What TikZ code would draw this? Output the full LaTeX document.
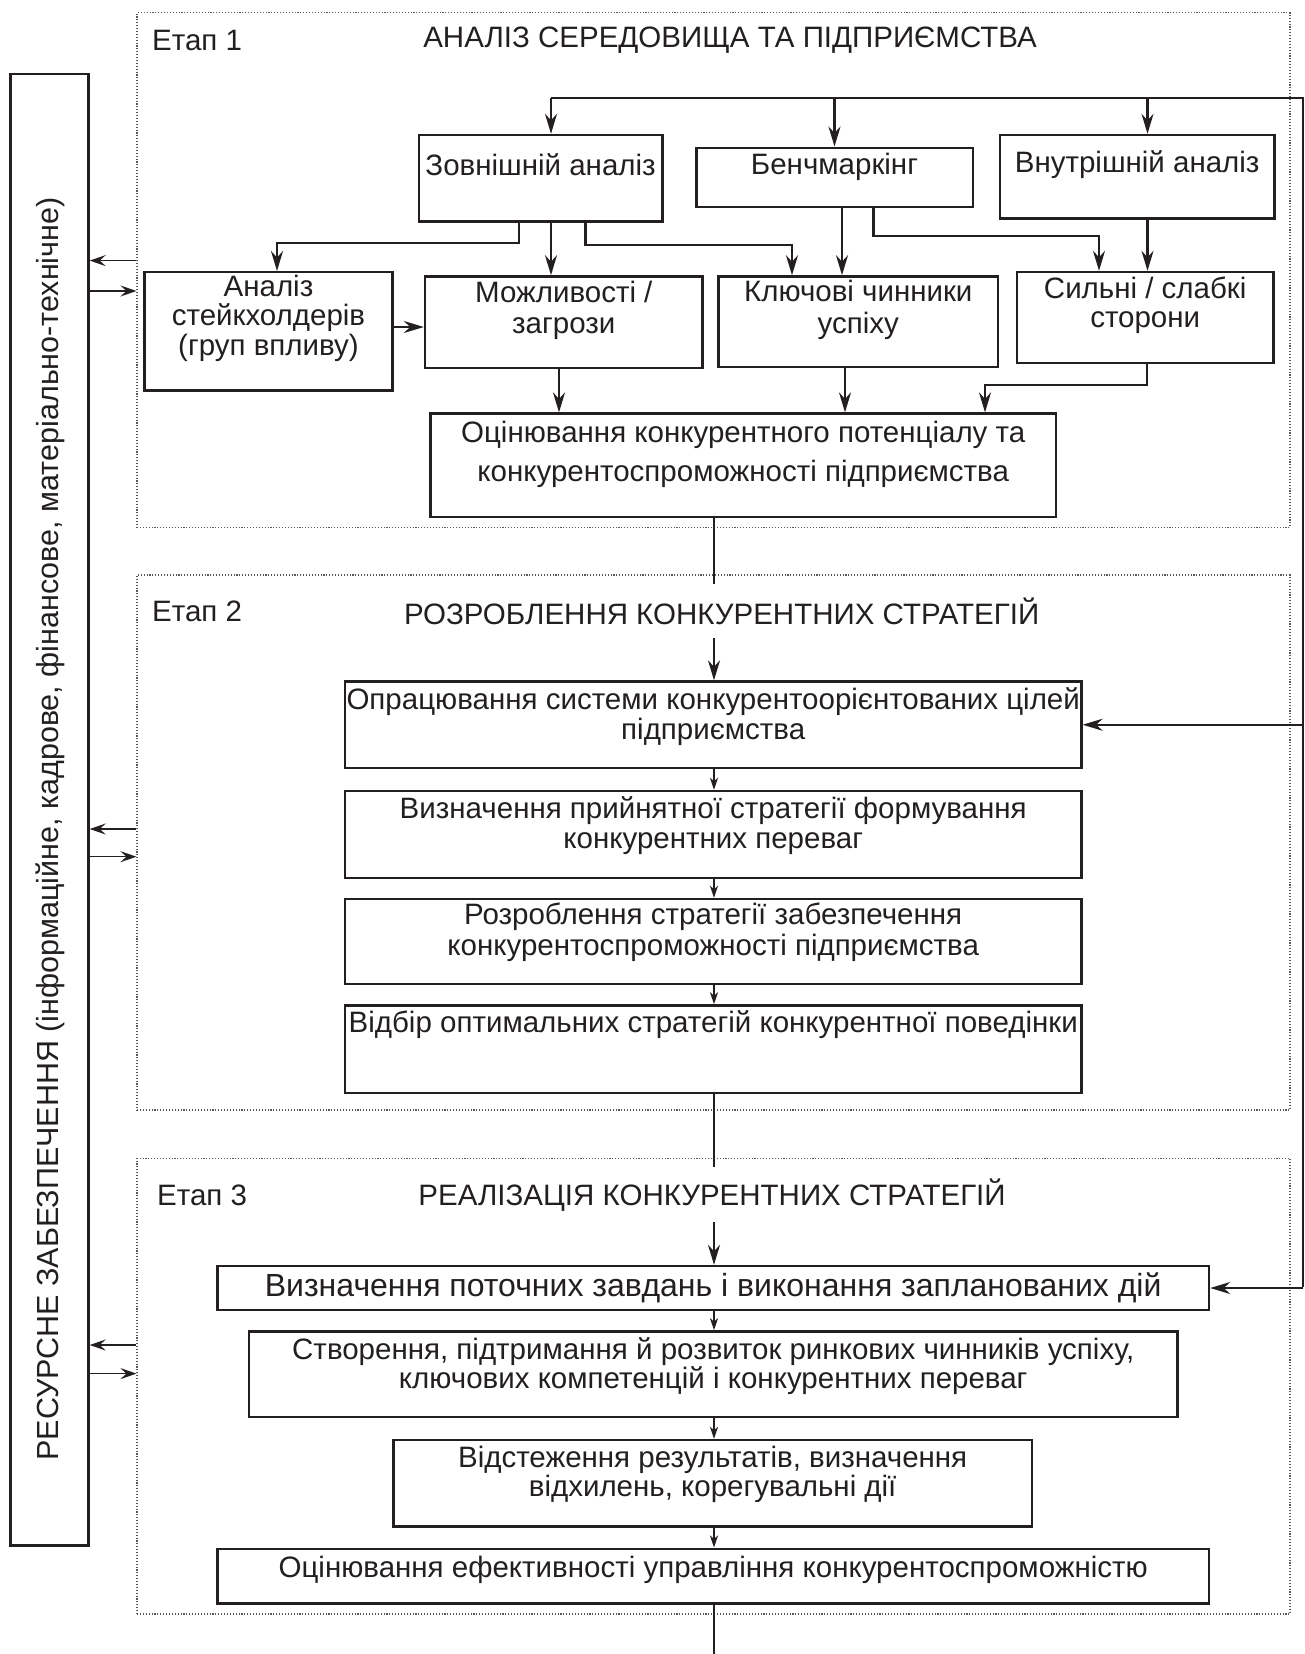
\documentclass[tikz,border=0pt]{standalone}
\usepackage{fontspec}
\setmainfont{Liberation Sans}
\usetikzlibrary{arrows.meta,fit,calc}
\definecolor{ink}{RGB}{35,31,32}
\begin{document}
\begin{tikzpicture}[x=1pt,y=-1pt,
 box/.style={draw=ink, line width=2.4pt, inner sep=0pt},
 stagebox/.style={draw=ink!75, line width=1.1pt, dash pattern=on 1.1pt off 1.8pt, inner sep=0pt},
 txt/.style={align=center, inner sep=0pt, text=ink},
 ln/.style={draw=ink, line width=2.2pt},
 arr/.style={ln, -{Stealth[length=20pt,width=12pt,inset=6.5pt]}},
 arrs/.style={ln, -{Stealth[length=12pt,width=8pt,inset=3.5pt]}},
 side/.style={draw=ink, line width=1.5pt, -{Stealth[length=16pt,width=11pt,inset=6pt]}},
 fa/.style={font=\fontsize{29.5}{32}\selectfont},
]
\useasboundingbox (0,0) rectangle (1305,1654);

% stage frames
\node[stagebox, fit={(137,12.7) (1290,527.5)}] (s1) {};
\node[stagebox, fit={(137,575) (1290,1110)}] (s2) {};
\node[stagebox, fit={(137,1158.4) (1290,1614)}] (s3) {};

% resource box
\node[box, fit={(10.5,73.9) (88.5,1545.6)}] (res) {};
\node[txt, rotate=90, font=\fontsize{30.5}{33}\selectfont] (restxt) at (50,829)
  {РЕСУРСНЕ ЗАБЕЗПЕЧЕННЯ (інформаційне, кадрове, фінансове, матеріально-технічне)};

% stage headings
\node[txt, fa, anchor=west] (e1) at (152,40) {Етап 1};
\node[txt, fa] (t1) at (730,40) {АНАЛІЗ СЕРЕДОВИЩА ТА ПІДПРИЄМСТВА};
\node[txt, fa, anchor=west] (e2) at (152,611) {Етап 2};
\node[txt, fa] (t2) at (721.6,611) {РОЗРОБЛЕННЯ КОНКУРЕНТНИХ СТРАТЕГІЙ};
\node[txt, fa, anchor=west] (e3) at (157,1195) {Етап 3};
\node[txt, fa] (t3) at (712,1195) {РЕАЛІЗАЦІЯ КОНКУРЕНТНИХ СТРАТЕГІЙ};

% stage 1 boxes
\node[box, fit={(418.8,135) (662.5,221.6)}] (zovn) {};
\node[txt, fa] at (540.6,164.5) {Зовнішній аналіз};
\node[box, fit={(696.3,147.7) (972.7,206.8)}] (bench) {};
\node[txt, fa] at (834.5,166.6) {Бенчмаркінг};
\node[box, fit={(1000,135) (1274.4,218.4)}] (vnut) {};
\node[txt, fa] at (1137.2,164.5) {Внутрішній аналіз};

\node[box, fit={(144.5,272.2) (392.5,390.4)}] (stake) {};
\node[txt, font=\fontsize{29.5}{29.5}\selectfont] at (268.5,318) {Аналіз\\стейкхолдерів\\(груп впливу)};
\node[box, fit={(425,276.4) (702.6,368.2)}] (mozh) {};
\node[txt, font=\fontsize{29.5}{31.7}\selectfont] at (563.8,310.5) {Можливості /\\загрози};
\node[box, fit={(718.5,276.4) (998,367)}] (kl) {};
\node[txt, font=\fontsize{29.5}{32}\selectfont] at (858.3,309.5) {Ключові чинники\\успіху};
\node[box, fit={(1017,272) (1273.4,363)}] (sil) {};
\node[txt, font=\fontsize{29.5}{28.6}\selectfont] at (1145.2,305.5) {Сильні / слабкі\\сторони};

\node[box, fit={(430.4,413.6) (1056,517)}] (oc) {};
\node[txt, font=\fontsize{29.5}{39}\selectfont] at (743.2,454) {Оцінювання конкурентного потенціалу та\\конкурентоспроможності підприємства};

% stage 2 boxes
\node[box, fit={(345,681.5) (1081.4,768)}] (opr) {};
\node[txt, font=\fontsize{29.5}{30.5}\selectfont] at (713.2,716.5) {Опрацювання системи конкурентоорієнтованих цілей\\підприємства};
\node[box, fit={(345,791) (1081.4,877.8)}] (vyzn) {};
\node[txt, font=\fontsize{29.5}{29.7}\selectfont] at (713.2,825.5) {Визначення прийнятної стратегії формування\\конкурентних переваг};
\node[box, fit={(345,899) (1081.4,984)}] (rozr) {};
\node[txt, font=\fontsize{29.5}{30.6}\selectfont] at (713.2,932.5) {Розроблення стратегії забезпечення\\конкурентоспроможності підприємства};
\node[box, fit={(345,1005.4) (1081.4,1093)}] (vidb) {};
\node[txt, fa] at (713.2,1025) {Відбір оптимальних стратегій конкурентної поведінки};

% stage 3 boxes
\node[box, fit={(217.3,1266) (1209,1310)}] (pot) {};
\node[txt, font=\fontsize{32}{35}\selectfont] at (713.2,1288) {Визначення поточних завдань і виконання запланованих дій};
\node[box, fit={(249,1331.4) (1177.4,1416.9)}] (stv) {};
\node[txt, font=\fontsize{29.5}{28.6}\selectfont] at (713.2,1366) {Створення, підтримання й розвиток ринкових чинників успіху,\\ключових компетенцій і конкурентних переваг};
\node[box, fit={(393.5,1440) (1031.8,1526.6)}] (vidst) {};
\node[txt, font=\fontsize{29.5}{28.5}\selectfont] at (712.7,1474.5) {Відстеження результатів, визначення\\відхилень, корегувальні дії};
\node[box, fit={(217.3,1548.7) (1209,1603.6)}] (oef) {};
\node[txt, fa] at (713.2,1570) {Оцінювання ефективності управління конкурентоспроможністю};

% column coordinates
\coordinate (cA) at (551,0);
\coordinate (cB) at (834.5,0);
\coordinate (cC) at (1147.5,0);
\coordinate (cm) at (714,0);
\coordinate (fbTop) at (1303,98);
\coordinate (fbBot) at (1303,1287);

% feedback line
\draw[ln] (fbTop -| cA) -- (fbTop) -- (fbBot);
\draw[arr] (fbTop -| cA) -- (zovn.north -| cA);
\draw[arr] (fbTop -| cB) -- (bench.north -| cB);
\draw[arr] (fbTop -| cC) -- (vnut.north -| cC);
\draw[arr] (fbTop |- opr.east) -- (opr.east);
\draw[arr] (fbTop |- pot.east) -- (pot.east);

% stage 1 connectors
\coordinate (zl) at (519,243);
\coordinate (zr) at (585.5,245);
\coordinate (sl) at (277,0);
\coordinate (kx) at (792,0);
\coordinate (bx) at (842,0);
\coordinate (br) at (873.5,236.3);
\coordinate (sx) at (1099,0);
\draw[arr] (zovn.south -| zl) -- (zl) -- (zl -| sl) -- (stake.north -| sl);
\draw[arr] (zovn.south -| cA) -- (mozh.north -| cA);
\draw[arr] (zovn.south -| zr) -- (zr) -- (zr -| kx) -- (kl.north -| kx);
\draw[arr] (bench.south -| bx) -- (kl.north -| bx);
\draw[arr] (bench.south -| br) -- (br) -- (br -| sx) -- (sil.north -| sx);
\draw[arr] (vnut.south -| cC) -- (sil.north -| cC);
\draw[arr] (stake.east |- 0,327) -- (mozh.west |- 0,327);

\coordinate (mx) at (559,0);
\coordinate (kx2) at (845,0);
\coordinate (sc) at (1147,385);
\coordinate (ox) at (985,0);
\draw[arr] (mozh.south -| mx) -- (oc.north -| mx);
\draw[arr] (kl.south -| kx2) -- (oc.north -| kx2);
\draw[arr] (sil.south -| sc) -- (sc) -- (sc -| ox) -- (oc.north -| ox);

% between stages
\draw[ln] (oc.south -| cm) -- (cm |- 0,584);
\draw[arr] (cm |- 0,638) -- (opr.north -| cm);
\draw[arrs] (opr.south -| cm) -- (vyzn.north -| cm);
\draw[arrs] (vyzn.south -| cm) -- (rozr.north -| cm);
\draw[arrs] (rozr.south -| cm) -- (vidb.north -| cm);
\draw[ln] (vidb.south -| cm) -- (cm |- 0,1167);
\draw[arr] (cm |- 0,1222) -- (pot.north -| cm);
\draw[arrs] (pot.south -| cm) -- (stv.north -| cm);
\draw[arrs] (stv.south -| cm) -- (vidst.north -| cm);
\draw[arrs] (vidst.south -| cm) -- (oef.north -| cm);
\draw[ln] (oef.south -| cm) -- (cm |- 0,1654);

% resource arrows
\draw[side] (s1.west |- 0,260.6) -- (res.east |- 0,260.6);
\draw[side] (res.east |- 0,291) -- (s1.west |- 0,291);
\draw[side] (s2.west |- 0,829) -- (res.east |- 0,829);
\draw[side] (res.east |- 0,856.7) -- (s2.west |- 0,856.7);
\draw[side] (s3.west |- 0,1345) -- (res.east |- 0,1345);
\draw[side] (res.east |- 0,1373.6) -- (s3.west |- 0,1373.6);
\end{tikzpicture}
\end{document}
